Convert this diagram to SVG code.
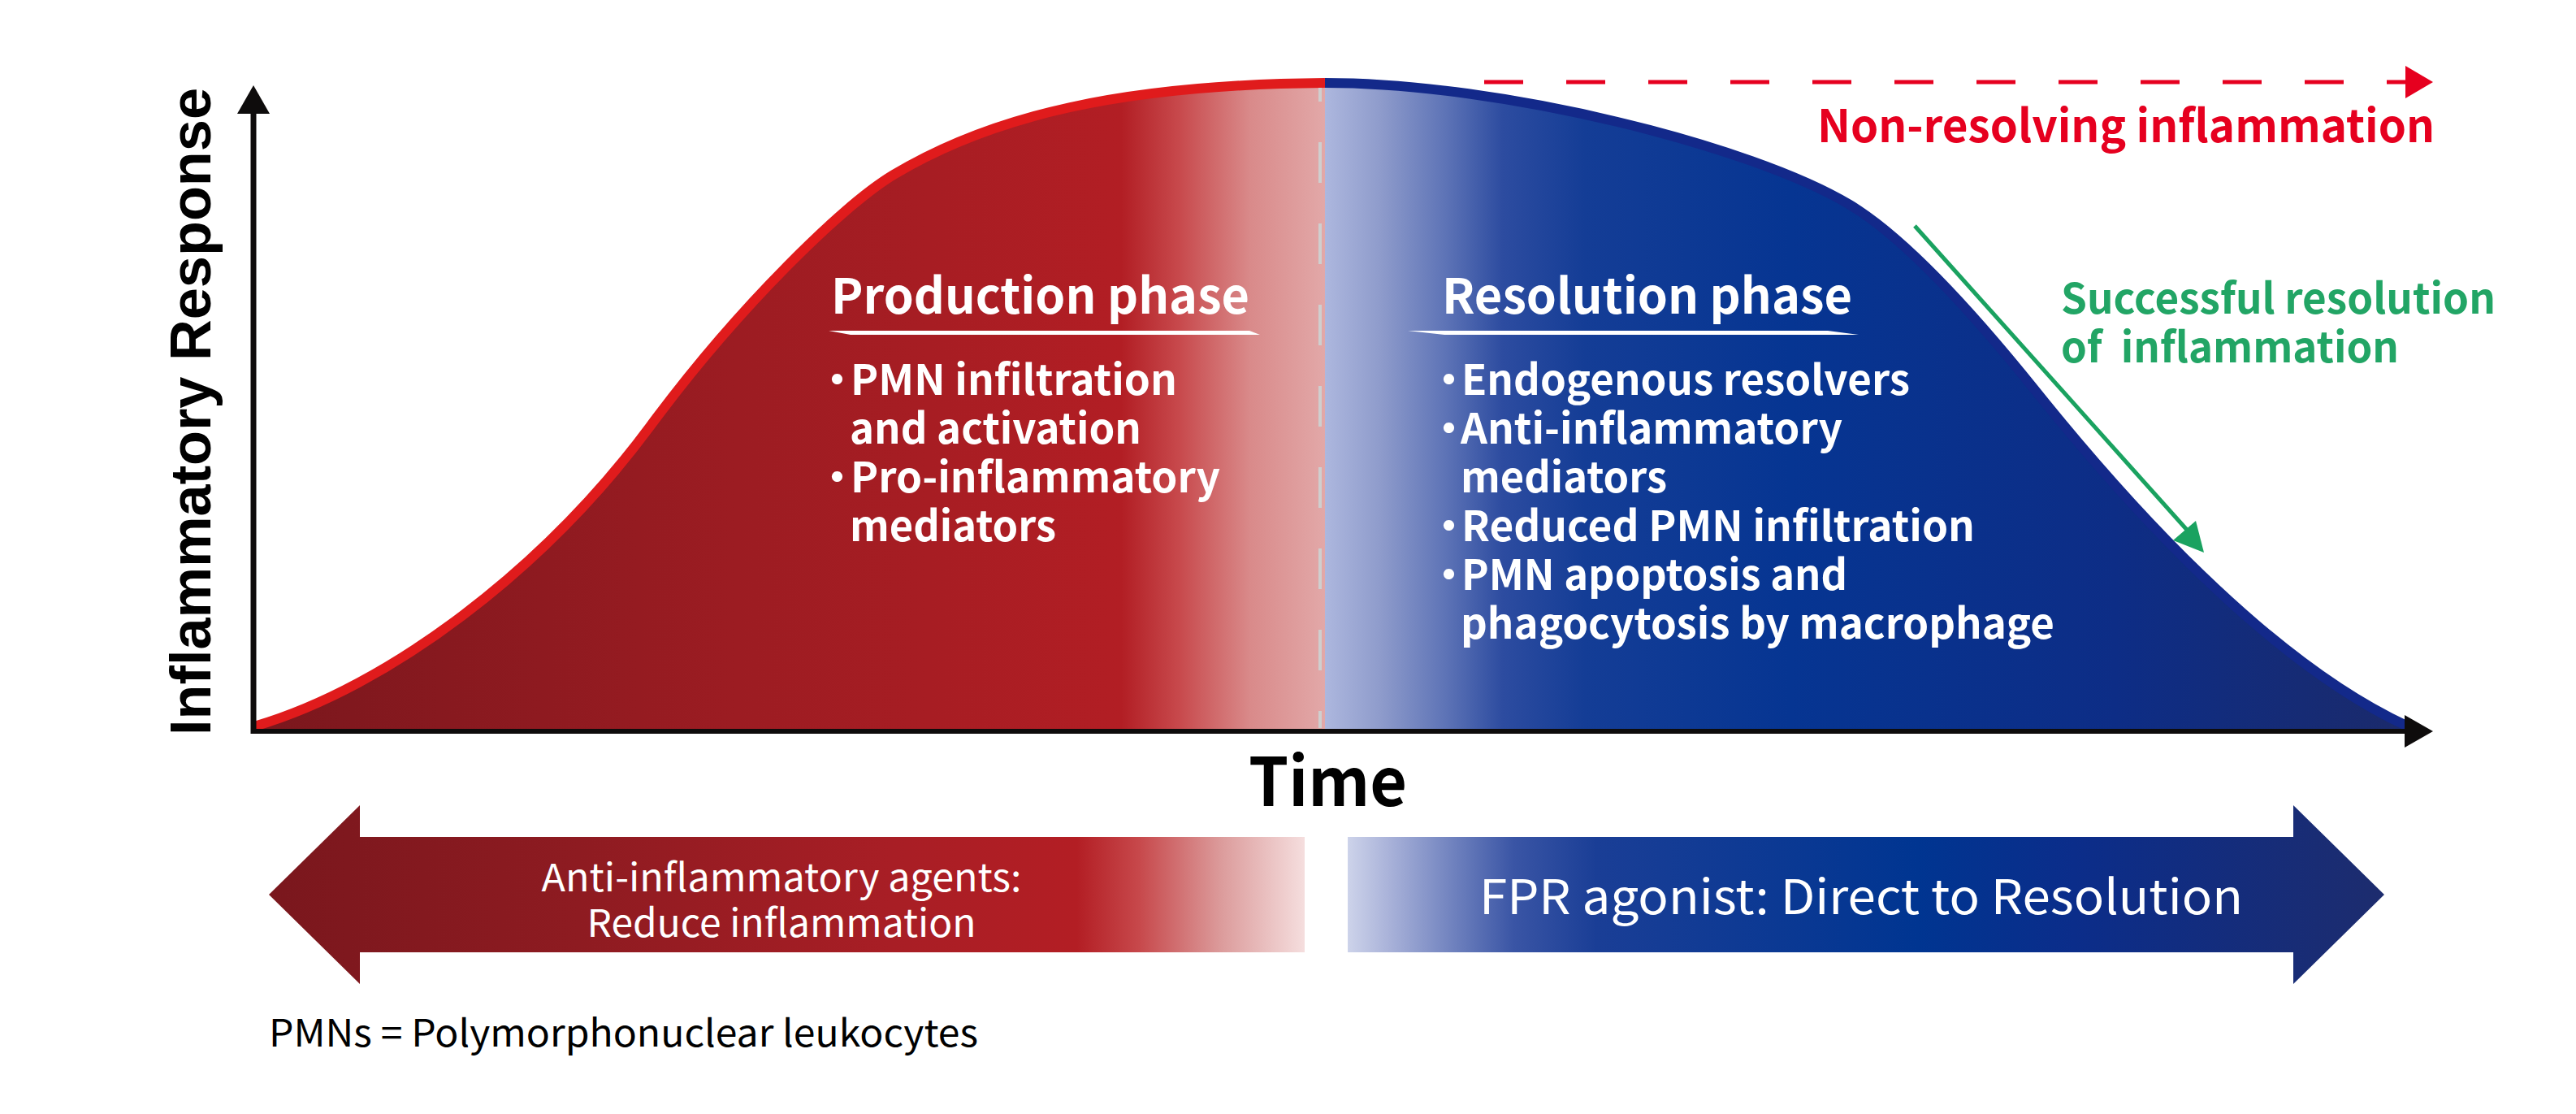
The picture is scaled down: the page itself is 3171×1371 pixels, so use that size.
<svg xmlns="http://www.w3.org/2000/svg" width="3171" height="1371" viewBox="0 0 3171 1371">
<defs>
<linearGradient id="gRed" gradientUnits="userSpaceOnUse" x1="313" y1="0" x2="1631" y2="0">
<stop offset="0" stop-color="#7a171d"/>
<stop offset="0.45" stop-color="#9c1c22"/>
<stop offset="0.81" stop-color="#b21e24"/>
<stop offset="0.865" stop-color="#c84a4d"/>
<stop offset="0.93" stop-color="#d98a8a"/>
<stop offset="1" stop-color="#e2a8a8"/>
</linearGradient>
<linearGradient id="gBlue" gradientUnits="userSpaceOnUse" x1="1631" y1="0" x2="2963" y2="0">
<stop offset="0" stop-color="#adb7de"/>
<stop offset="0.052" stop-color="#8e9bcb"/>
<stop offset="0.112" stop-color="#5d73b6"/>
<stop offset="0.164" stop-color="#2d4ca0"/>
<stop offset="0.24" stop-color="#143d96"/>
<stop offset="0.43" stop-color="#063592"/>
<stop offset="0.73" stop-color="#0d2d86"/>
<stop offset="1" stop-color="#1b2a6b"/>
</linearGradient>
<linearGradient id="gRedArrow" gradientUnits="userSpaceOnUse" x1="331" y1="0" x2="1606" y2="0">
<stop offset="0" stop-color="#7a171d"/>
<stop offset="0.3" stop-color="#8e1b21"/>
<stop offset="0.6" stop-color="#a81e25"/>
<stop offset="0.78" stop-color="#b31e24"/>
<stop offset="0.84" stop-color="#c7484b"/>
<stop offset="0.92" stop-color="#dc9c9c"/>
<stop offset="1" stop-color="#f5dede"/>
</linearGradient>
<linearGradient id="gBlueArrow" gradientUnits="userSpaceOnUse" x1="1659" y1="0" x2="2935" y2="0">
<stop offset="0" stop-color="#cdd3ea"/>
<stop offset="0.04" stop-color="#a9b2d9"/>
<stop offset="0.1" stop-color="#7183bf"/>
<stop offset="0.16" stop-color="#3a55a5"/>
<stop offset="0.24" stop-color="#1a3e96"/>
<stop offset="0.55" stop-color="#003591"/>
<stop offset="0.7" stop-color="#0b2d8a"/>
<stop offset="1" stop-color="#1d2c6e"/>
</linearGradient>
</defs>
<style>
.cjkb{font-family:"Noto Sans CJK JP","Noto Sans",sans-serif;font-weight:700}
.cjkr{font-family:"Noto Sans CJK JP","Noto Sans",sans-serif;font-weight:400}
.w{fill:#ffffff}
.head{font-size:60px}
.item{font-size:51px}
.axis{stroke:#0e0c0c;fill:none}
.ah{fill:#0e0c0c}
</style>
<rect x="0" y="0" width="3171" height="1371" fill="#ffffff"/>

<g id="curve">
<path d="M313,897 L313,894 C480,845 670,700 800,525 C910,376 1040,251 1100,215 C1220,143 1380,104 1631,102 L1631,897 Z" fill="url(#gRed)"/>
<path d="M1631,102 C1850,102 2157,180 2277,252 C2347,294 2435,393 2505,480 C2615,617 2790,813 2962,893 L2962,897 L1631,897 Z" fill="url(#gBlue)"/>
<path d="M313,894 C480,845 670,700 800,525 C910,376 1040,251 1100,215 C1220,143 1380,104 1631,102" fill="none" stroke="#e01b1c" stroke-width="12"/>
<path d="M1631,102 C1850,102 2157,180 2277,252 C2347,294 2435,393 2505,480 C2615,617 2790,813 2962,893" fill="none" stroke="#13298a" stroke-width="12"/>
<line x1="1625" y1="108" x2="1625" y2="896" stroke="#cfcfcf" stroke-width="4" stroke-dasharray="50 50" stroke-dashoffset="33"/>
</g>

<g id="production-phase">
<text class="cjkb w head" x="1023" y="386" textLength="515" lengthAdjust="spacingAndGlyphs">Production phase</text>
<polygon class="w" points="1020,407 1538,407 1551,412 1047,412" fill="#fff"/>
<text class="cjkb w item" x="1005" y="486">・</text>
<text class="cjkb w item" x="1047" y="486" textLength="402" lengthAdjust="spacingAndGlyphs">PMN infiltration</text>
<text class="cjkb w item" x="1046" y="546" textLength="359" lengthAdjust="spacingAndGlyphs">and activation</text>
<text class="cjkb w item" x="1005" y="606">・</text>
<text class="cjkb w item" x="1047" y="606" textLength="455" lengthAdjust="spacingAndGlyphs">Pro-inflammatory</text>
<text class="cjkb w item" x="1046" y="666" textLength="254" lengthAdjust="spacingAndGlyphs">mediators</text>
</g>

<g id="resolution-phase">
<text class="cjkb w head" x="1775" y="386" textLength="505" lengthAdjust="spacingAndGlyphs">Resolution phase</text>
<polygon points="1733,407 2250,407 2288,412 1778,412" fill="#fff"/>
<text class="cjkb w item" x="1758" y="486">・</text>
<text class="cjkb w item" x="1799" y="486" textLength="552" lengthAdjust="spacingAndGlyphs">Endogenous resolvers</text>
<text class="cjkb w item" x="1758" y="546">・</text>
<text class="cjkb w item" x="1798" y="546" textLength="470" lengthAdjust="spacingAndGlyphs">Anti-inflammatory</text>
<text class="cjkb w item" x="1798" y="606" textLength="254" lengthAdjust="spacingAndGlyphs">mediators</text>
<text class="cjkb w item" x="1758" y="666">・</text>
<text class="cjkb w item" x="1799" y="666" textLength="632" lengthAdjust="spacingAndGlyphs">Reduced PMN infiltration</text>
<text class="cjkb w item" x="1758" y="726">・</text>
<text class="cjkb w item" x="1799" y="726" textLength="475" lengthAdjust="spacingAndGlyphs">PMN apoptosis and</text>
<text class="cjkb w item" x="1798" y="786" textLength="731" lengthAdjust="spacingAndGlyphs">phagocytosis by macrophage</text>
</g>

<g id="non-resolving-label">
<text class="cjkb" x="2237" y="175" font-size="56" fill="#e6001f" textLength="760" lengthAdjust="spacingAndGlyphs">Non-resolving inflammation</text>
</g>

<g id="successful-resolution-label">
<text class="cjkb" x="2537" y="386" font-size="52" fill="#22a565" textLength="535" lengthAdjust="spacingAndGlyphs">Successful resolution</text>
<text class="cjkb" x="2537" y="446" font-size="52" fill="#22a565" xml:space="preserve" textLength="416" lengthAdjust="spacingAndGlyphs">of  inflammation</text>
</g>

<g id="axis-labels">
<text x="1537" y="992" class="cjkb" font-size="82" font-weight="900" fill="#000" textLength="195" lengthAdjust="spacingAndGlyphs">Time</text>
<text transform="translate(259,905) rotate(-90)" x="0" y="0" font-family="'Liberation Sans',Arial,sans-serif" font-weight="700" font-size="71" fill="#000" textLength="797" lengthAdjust="spacingAndGlyphs">Inflammatory Response</text>
</g>

<g id="anti-inflammatory-arrow">
<polygon points="331,1101 443,991 443,1030 1606,1030 1606,1172 443,1172 443,1211" fill="url(#gRedArrow)"/>
<text class="cjkr w" x="962" y="1097" font-size="47" text-anchor="middle" textLength="591" lengthAdjust="spacingAndGlyphs">Anti-inflammatory agents:</text>
<text class="cjkr w" x="962" y="1153" font-size="47" text-anchor="middle" textLength="479" lengthAdjust="spacingAndGlyphs">Reduce inflammation</text>
</g>

<g id="fpr-agonist-arrow">
<polygon points="1659,1030 2823,1030 2823,991 2935,1101 2823,1211 2823,1172 1659,1172" fill="url(#gBlueArrow)"/>
<text class="cjkr w" x="1821" y="1125" font-size="59" textLength="940" lengthAdjust="spacingAndGlyphs">FPR agonist: Direct to Resolution</text>
</g>

<g id="footnote">
<text class="cjkr" x="331" y="1288" font-size="46" fill="#000" textLength="873" lengthAdjust="spacingAndGlyphs">PMNs = Polymorphonuclear leukocytes</text>
</g>

<g id="connectors">
<line class="axis" x1="312" y1="136" x2="312" y2="903" stroke-width="7"/>
<polygon class="ah" points="312,105 332,140 292,140"/>
<line class="axis" x1="309" y1="900" x2="2962" y2="900" stroke-width="6"/>
<polygon class="ah" points="2995,900 2960,880 2960,920"/>
<line x1="1827" y1="101" x2="2962" y2="101" stroke="#e6001f" stroke-width="5" stroke-dasharray="48 53"/>
<polygon points="2995,101 2961,81 2961,121" fill="#e6001f"/>
<line x1="2357" y1="278" x2="2692" y2="652" stroke="#1aa260" stroke-width="5"/>
<polygon points="2713,680 2675,665 2703,641" fill="#1aa260"/>
</g>
</svg>
